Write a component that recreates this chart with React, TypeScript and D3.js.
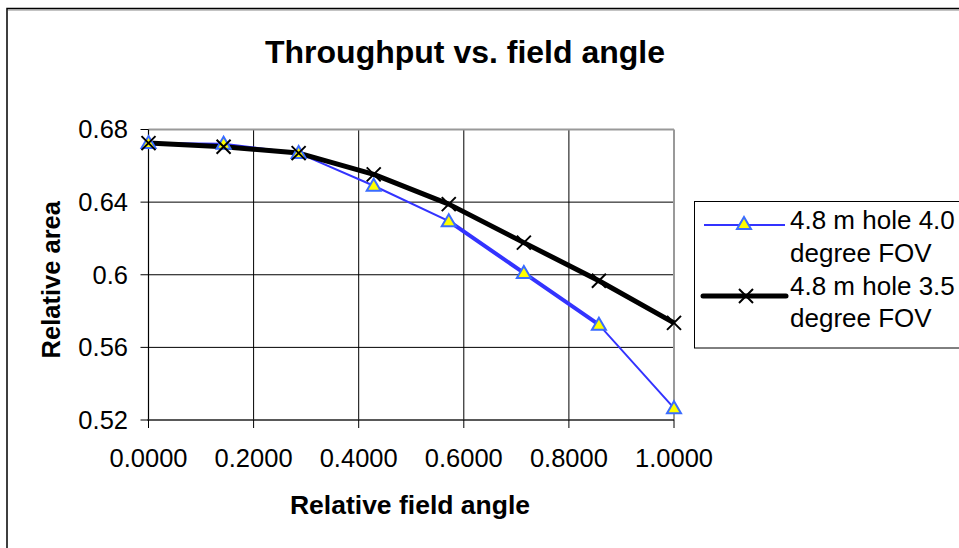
import React from "react";
import * as d3 from "d3";

const fieldAngle = [0, 0.1429, 0.2857, 0.4286, 0.5714, 0.7143, 0.8571, 1.0];
const fov40 = [0.6725, 0.6722, 0.667, 0.649, 0.6295, 0.601, 0.5725, 0.5265];
const fov35 = [0.6725, 0.6705, 0.667, 0.6553, 0.6389, 0.6177, 0.5967, 0.5735];
// duplicated segment of the 4.0 degree series (drawn heavier in the original)
const fov40Overlap = [null, null, null, null, 0.6295, 0.601, 0.5725, null];
const xTicks = [0, 0.2, 0.4, 0.6, 0.8, 1.0];
const yTicks = [0.52, 0.56, 0.6, 0.64, 0.68];
const yTickLabels = ["0.52", "0.56", "0.6", "0.64", "0.68"];
const seriesNames = ["4.8 m hole 4.0", "4.8 m hole 3.5"];

const FONT = "Arial, 'Liberation Sans', sans-serif";
const BLUE = "#3333ff";
const MARK_BLUE = "#3a6cff";

export default function App() {
  const left = 148.5, right = 674, top = 129.5, bottom = 420;
  const x = d3.scaleLinear().domain([0, 1]).range([left, right]);
  const y = d3.scaleLinear().domain([0.52, 0.68]).range([bottom, top]);

  const line = d3
    .line<number | null>()
    .defined((d) => d !== null)
    .x((_, i) => x(fieldAngle[i]))
    .y((d) => y(d as number));

  const tri = (cx: number, cy: number, key: string | number) => (
    <path
      key={key}
      d={`M${cx},${cy - 7} L${cx + 7},${cy + 5} L${cx - 7},${cy + 5} Z`}
      fill="#ffff00"
      stroke={MARK_BLUE}
      strokeWidth={2}
      strokeLinejoin="miter"
    />
  );
  const cross = (cx: number, cy: number, key: string | number) => (
    <path
      key={key}
      d={`M${cx - 7},${cy - 7} L${cx + 7},${cy + 7} M${cx + 7},${cy - 7} L${cx - 7},${cy + 7}`}
      stroke="#000"
      strokeWidth={2}
      fill="none"
    />
  );

  return (
    <svg
      width={959}
      height={548}
      style={{ position: "absolute", left: 0, top: 0, display: "block", background: "#fff" }}
      fontFamily={FONT}
    >
      <rect x={0} y={0} width={959} height={548} fill="#fff" />
      {/* chart area border */}
      <rect x={7} y={8.5} width={1000} height={600} fill="none" stroke="#000" strokeWidth={1.5} />
      <line x1={8} x2={959} y1={10} y2={10} stroke="#888" strokeWidth={1} />

      {/* title */}
      <text x={465} y={63} textAnchor="middle" fontWeight="bold" fontSize={32} fill="#000">
        Throughput vs. field angle
      </text>

      {/* grid */}
      {xTicks.slice(1, -1).map((t) => (
        <line key={"gx" + t} x1={x(t)} x2={x(t)} y1={top} y2={bottom} stroke="#000" strokeWidth={1} />
      ))}
      {yTicks.slice(1, -1).map((t) => (
        <line key={"gy" + t} x1={left} x2={right} y1={y(t)} y2={y(t)} stroke="#000" strokeWidth={1} />
      ))}
      {/* plot border */}
      <line x1={left} x2={right} y1={top} y2={top} stroke="#999" strokeWidth={2} />
      <line x1={right} x2={right} y1={top} y2={bottom} stroke="#999" strokeWidth={2} />

      {/* axes */}
      <line x1={left} x2={left} y1={top} y2={bottom + 1} stroke="#000" strokeWidth={1.2} />
      <line x1={left - 1} x2={right} y1={bottom} y2={bottom} stroke="#222" strokeWidth={1.5} />
      {xTicks.map((t) => (
        <g key={"xt" + t}>
          <line x1={x(t)} x2={x(t)} y1={bottom} y2={bottom + 8} stroke="#000" strokeWidth={1} />
          <text x={x(t)} y={467} textAnchor="middle" fontSize={25.5} fill="#000">
            {d3.format(".4f")(t)}
          </text>
        </g>
      ))}
      {yTicks.map((t, i) => (
        <g key={"yt" + t}>
          <line x1={left - 8} x2={left} y1={y(t)} y2={y(t)} stroke="#000" strokeWidth={1} />
          <text x={128} y={y(t)} dy="0.35em" textAnchor="end" fontSize={25.5} fill="#000">
            {yTickLabels[i]}
          </text>
        </g>
      ))}

      {/* axis titles */}
      <text x={410} y={514} textAnchor="middle" fontWeight="bold" fontSize={26.5} fill="#000">
        Relative field angle
      </text>
      <text
        transform={`translate(60,${(top + bottom) / 2 + 5}) rotate(-90)`}
        textAnchor="middle"
        fontWeight="bold"
        fontSize={25.5}
        fill="#000"
      >
        Relative area
      </text>

      {/* series */}
      <path d={line(fov40) || ""} fill="none" stroke={BLUE} strokeWidth={2} />
      <path d={line(fov40Overlap) || ""} fill="none" stroke={BLUE} strokeWidth={4} />
      <path d={line(fov35) || ""} fill="none" stroke="#000" strokeWidth={5} strokeLinejoin="round" />
      {fov40.map((v, i) => tri(x(fieldAngle[i]), y(v), "t" + i))}
      {fov35.map((v, i) => cross(x(fieldAngle[i]), y(v), "c" + i))}

      {/* legend */}
      <rect x={694.5} y={201.5} width={400} height={146.5} fill="#fff" stroke="#000" strokeWidth={1} />
      <line x1={704} x2={785} y1={225} y2={225} stroke={BLUE} strokeWidth={2} />
      {tri(744, 224, "lt")}
      <text x={790} y={229} fontSize={26} fill="#000">{seriesNames[0]}</text>
      <text x={790} y={262} fontSize={26} fill="#000">degree FOV</text>
      <line x1={703} x2={786} y1={296} y2={296} stroke="#000" strokeWidth={5} strokeLinecap="round" />
      {cross(746, 296, "lc")}
      <text x={790} y={295} fontSize={26} fill="#000">{seriesNames[1]}</text>
      <text x={790} y={327} fontSize={26} fill="#000">degree FOV</text>
    </svg>
  );
}
